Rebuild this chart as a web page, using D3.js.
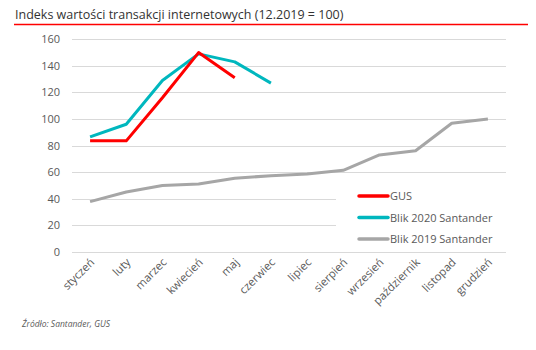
<!DOCTYPE html>
<html>
<head>
<meta charset="utf-8">
<script src="https://cdn.jsdelivr.net/npm/d3@7"></script>
<style>
  body { margin: 0; background: #fff; }
  text { font-family: "Open Sans", sans-serif; }
</style>
</head>
<body>
<div id="chart"></div>
<script>
var months = ["styczeń", "luty", "marzec", "kwiecień", "maj", "czerwiec",
  "lipiec", "sierpień", "wrzesień", "październik", "listopad", "grudzień"];
var gus = [83.5, 83.5, 116, 150, 131];
var blik2020 = [86.5, 96, 129, 149, 143, 127];
var blik2019 = [37.7, 45, 49.8, 51, 55.3, 57.3, 58.6, 61.3, 72.9, 76, 96.8, 100];
var yTicks = [0, 20, 40, 60, 80, 100, 120, 140, 160];

var series = [
  { name: "GUS", values: gus, color: "#ff0000" },
  { name: "Blik 2020 Santander", values: blik2020, color: "#00b7be" },
  { name: "Blik 2019 Santander", values: blik2019, color: "#a6a6a6" }
];

var width = 536, height = 350;
var svg = d3.select("#chart").append("svg")
  .attr("width", width)
  .attr("height", height);

// title + red rule
svg.append("text")
  .attr("x", 15).attr("y", 19)
  .attr("font-size", 12.5)
  .attr("fill", "#333")
  .text("Indeks wartości transakcji internetowych (12.2019 = 100)");
svg.append("line")
  .attr("x1", 14).attr("x2", 528)
  .attr("y1", 24.5).attr("y2", 24.5)
  .attr("stroke", "#ff0000").attr("stroke-width", 1.5);

var x = d3.scaleBand().domain(months).range([72, 506]);
var y = d3.scaleLinear().domain([0, 160]).range([251.7, 39.3]);

// gridlines
svg.append("g").selectAll("line")
  .data(yTicks)
  .join("line")
  .attr("x1", 72).attr("x2", 506)
  .attr("y1", function (d) { return Math.round(y(d)) + 0.5; })
  .attr("y2", function (d) { return Math.round(y(d)) + 0.5; })
  .attr("stroke", "#d9d9d9").attr("stroke-width", 1);

// y labels
svg.append("g").selectAll("text")
  .data(yTicks)
  .join("text")
  .attr("x", 60)
  .attr("y", function (d) { return y(d) + 4; })
  .attr("text-anchor", "end")
  .attr("font-size", 11)
  .attr("fill", "#595959")
  .text(function (d) { return d; });

// x labels
svg.append("g").selectAll("text")
  .data(months)
  .join("text")
  .attr("text-anchor", "end")
  .attr("font-size", 11.3)
  .attr("fill", "#595959")
  .attr("transform", function (d) {
    return "translate(" + (x(d) + x.bandwidth() / 2 + 5) + ",263) rotate(-45)";
  })
  .text(function (d) { return d; });

var line = d3.line()
  .x(function (d, i) { return x(months[i]) + x.bandwidth() / 2; })
  .y(function (d) { return y(d); });

// draw grey first so coloured ones sit on top
series.slice().reverse().forEach(function (s) {
  svg.append("path")
    .datum(s.values)
    .attr("fill", "none")
    .attr("stroke", s.color)
    .attr("stroke-width", 3)
    .attr("stroke-linejoin", "round")
    .attr("d", line);
});

// legend
var lg = svg.append("g");
lg.append("rect")
  .attr("x", 336).attr("y", 184)
  .attr("width", 172).attr("height", 64)
  .attr("fill", "#fff");
series.forEach(function (s, i) {
  var ly = 196 + i * 21.5;
  lg.append("line")
    .attr("x1", 359).attr("x2", 388)
    .attr("y1", ly).attr("y2", ly)
    .attr("stroke", s.color).attr("stroke-width", 3.5)
    .attr("stroke-linecap", "round");
  lg.append("text")
    .attr("x", 390).attr("y", ly + 4)
    .attr("font-size", 11)
    .attr("fill", "#595959")
    .text(s.name);
});

// source
svg.append("text")
  .attr("x", 22).attr("y", 327)
  .attr("font-size", 8.5)
  .attr("font-style", "italic")
  .attr("fill", "#595959")
  .text("Źródło: Santander, GUS");
</script>
</body>
</html>
